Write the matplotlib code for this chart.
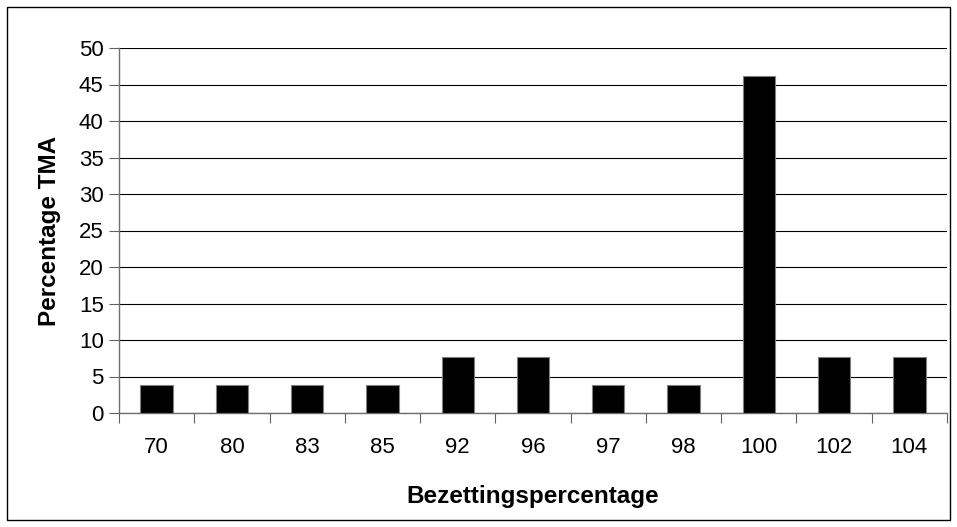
import matplotlib.pyplot as plt
from matplotlib.patches import Rectangle

plt.rcParams['font.family'] = ['Liberation Sans', 'DejaVu Sans']

categories = ['70', '80', '83', '85', '92', '96', '97', '98', '100', '102', '104']
percentages = [3.85, 3.85, 3.85, 3.85, 7.69, 7.69, 3.85, 3.85, 46.15, 7.69, 7.69]

fig = plt.figure(figsize=(9.57, 5.27), dpi=100)
ax = fig.add_axes([119 / 957, 1 - 413 / 527, (947 - 119) / 957, (413 - 48) / 527])

x = range(len(categories))
ax.bar(x, percentages, width=0.43, color='black', edgecolor='#808080',
       linewidth=0.8, zorder=3)

ax.set_xlim(-0.5, len(categories) - 0.5)
ax.set_ylim(0, 50)
ax.set_yticks(range(0, 51, 5))
ax.set_xticks([i - 0.5 for i in range(len(categories) + 1)], minor=False)
ax.set_xticklabels([])
ax.set_xticks(list(x), minor=True)
ax.set_xticklabels(categories, minor=True)
ax.tick_params(axis='x', which='minor', length=0, pad=17, labelsize=16)
ax.tick_params(axis='x', which='major', length=7, direction='out', color='#606060')
ax.tick_params(axis='y', length=7, direction='out', color='#606060', labelsize=16, pad=4)

ax.grid(axis='y', color='black', linewidth=0.8, zorder=0)
for side in ['top', 'right']:
    ax.spines[side].set_visible(False)
for side in ['left', 'bottom']:
    ax.spines[side].set_color('#707070')
    ax.spines[side].set_linewidth(1.0)

ax.set_xlabel('Bezettingspercentage', fontsize=17.5, fontweight='bold', labelpad=20)
ax.set_ylabel('Percentage TMA', fontsize=17.5, fontweight='bold', labelpad=13)

# outer frame around the whole chart
fig.patches.append(Rectangle((7 / 957, 7 / 527), 943 / 957, 513 / 527,
                             transform=fig.transFigure, fill=False,
                             edgecolor='black', linewidth=1.0))

fig.savefig('out.png', dpi=100)
